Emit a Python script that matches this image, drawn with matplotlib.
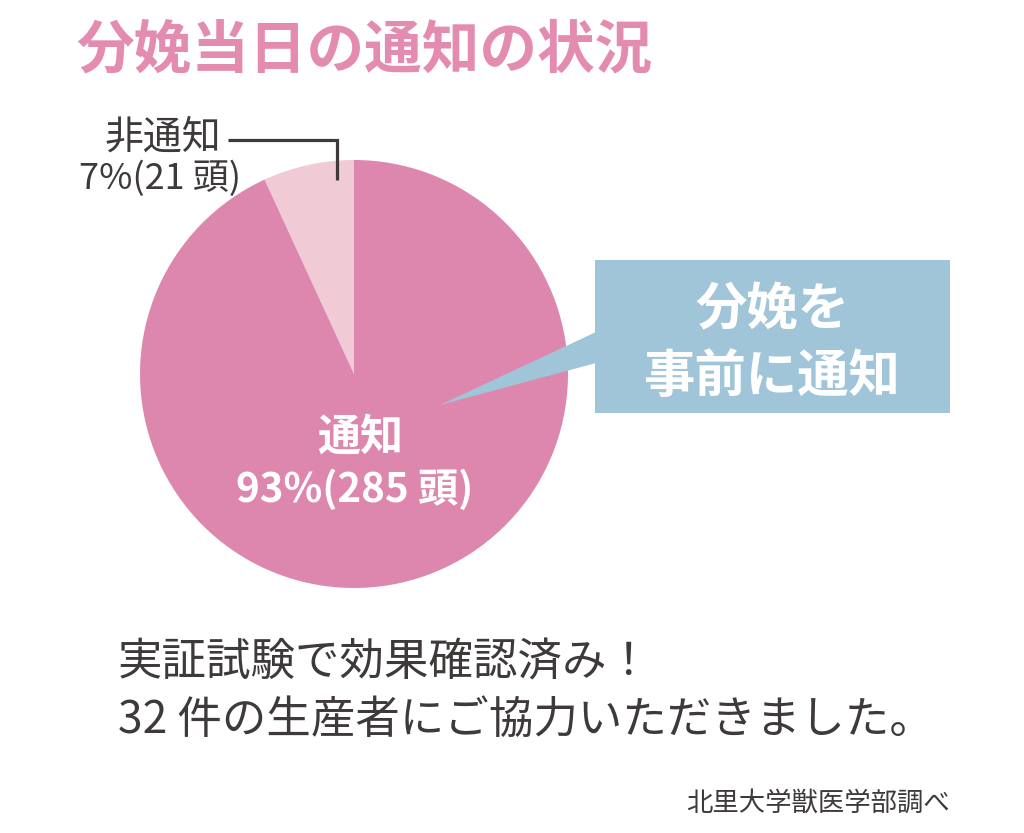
import matplotlib
matplotlib.use("Agg")
import matplotlib.pyplot as plt
from matplotlib.patches import Rectangle, Polygon

plt.rcParams['font.family'] = ['Noto Sans CJK JP', 'DejaVu Sans']

# Data
labels = ["非通知", "通知"]
counts = [21, 285]
percents = ["7%", "93%"]
colors = ["#F0CBD5", "#DE87AE"]
title = "分娩当日の通知の状況"
callout_lines = ["分娩を", "事前に通知"]
note_lines = ["実証試験で効果確認済み！", "32 件の生産者にご協力いただきました。"]
source = "北里大学獣医学部調べ"

W, H = 1024, 833
fig = plt.figure(figsize=(W / 100, H / 100), dpi=100)
ax = fig.add_axes([0, 0, 1, 1])

def Y(y):
    return H - y

cx, cy, r = 354, 374, 214
ax.pie(counts, colors=colors, startangle=90, counterclock=True,
       center=(cx, Y(cy)), radius=r, frame=True,
       wedgeprops=dict(linewidth=0))

ax.set_xlim(0, W)
ax.set_ylim(0, H)
ax.set_aspect('auto')
ax.axis('off')

dark = "#3E3A39"

# Title
ax.text(76, Y(50), title, fontsize=41.5, fontweight='bold', color="#E48BB0",
        ha='left', va='center')

# Small slice label + leader
ax.text(163, Y(138), labels[0], fontsize=28, color=dark, ha='center', va='center')
ax.text(160, Y(179), f"{percents[0]}({counts[0]} 頭)", fontsize=26, color=dark,
        ha='center', va='center')
ax.plot([228, 337, 337], [Y(140), Y(140), Y(180)], color=dark, lw=2.3,
        solid_joinstyle='miter', solid_capstyle='butt')

# Big slice label
ax.text(360, Y(437), labels[1], fontsize=31, fontweight='bold', color='white',
        ha='center', va='center')
ax.text(355, Y(490), f"{percents[1]}({counts[1]} 頭)", fontsize=29, fontweight='bold',
        color='white', ha='center', va='center')

# Callout box
blue = "#A0C4D8"
ax.add_patch(Rectangle((595, Y(413)), 355, 153, facecolor=blue, edgecolor='none'))
ax.add_patch(Polygon([(440, Y(405)), (596, Y(332)), (596, Y(363))],
                     closed=True, facecolor=blue, edgecolor='none'))
ax.text(772, Y(310), callout_lines[0], fontsize=37, fontweight='bold', color='white',
        ha='center', va='center')
ax.text(772, Y(376), callout_lines[1], fontsize=37, fontweight='bold', color='white',
        ha='center', va='center')

# Notes
ax.text(118, Y(663), note_lines[0], fontsize=32, color=dark, ha='left', va='center')
ax.text(118, Y(720), note_lines[1], fontsize=32, color=dark, ha='left', va='center')
ax.text(950, Y(803), source, fontsize=19, color=dark, ha='right', va='center')

fig.savefig("out.png", dpi=100, facecolor='white')
